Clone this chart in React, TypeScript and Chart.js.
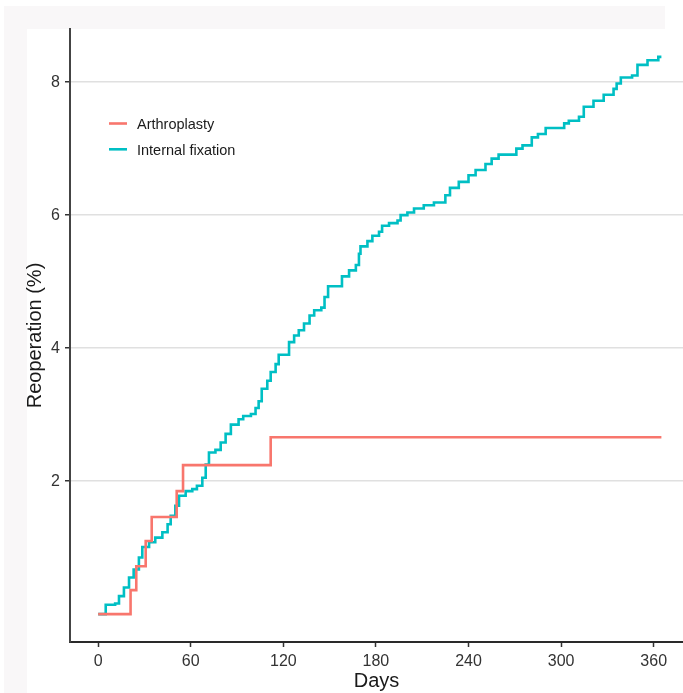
import React, { useEffect, useRef } from "react";
import { Chart, registerables } from "chart.js";

Chart.register(...registerables);

// ---- data ----
const ARTH_DAYS = [0, 21, 24.7, 30.8, 34.7, 50.9, 55, 111.8, 365];
const ARTH_VALUES = [0, 0.36, 0.72, 1.1, 1.46, 1.85, 2.24, 2.66, 2.66];

const IF_DAYS = [
  0, 4.9, 11, 13.5, 16.7, 20, 23, 26.4, 28.6, 33, 37, 41.6, 45, 47, 50, 52.4, 56.7, 61, 64, 67.5,
  69.7, 71.8, 76, 79.4, 82.6, 86, 91, 94, 99, 102, 104, 106, 109.6, 111.8, 115, 117, 123.7, 127,
  130, 133.4, 137, 140, 144.6, 146.7, 149, 158, 162.6, 167, 169, 170, 174.5, 177.7, 182, 184,
  188.5, 194, 196, 200.4, 204.7, 211, 217.6, 225, 228, 233.7, 240, 244.6, 251, 255, 259.5, 271,
  275, 281, 285, 290, 302, 305, 311.6, 314.7, 321, 327.6, 334, 336, 338.7, 346, 349.5, 356, 363,
  365,
];
const IF_VALUES = [
  0, 0.14, 0.16, 0.27, 0.4, 0.55, 0.67, 0.85, 1.01, 1.08, 1.15, 1.23, 1.35, 1.48, 1.63, 1.78, 1.85,
  1.88, 1.93, 2.05, 2.25, 2.43, 2.47, 2.58, 2.71, 2.85, 2.93, 2.98, 3.01, 3.1, 3.2, 3.39, 3.51,
  3.64, 3.76, 3.9, 4.09, 4.19, 4.27, 4.37, 4.49, 4.57, 4.61, 4.77, 4.93, 5.08, 5.17, 5.25, 5.42,
  5.53, 5.61, 5.69, 5.75, 5.84, 5.88, 5.92, 6.0, 6.04, 6.1, 6.15, 6.19, 6.3, 6.41, 6.5, 6.6, 6.68,
  6.77, 6.85, 6.91, 7.0, 7.05, 7.17, 7.22, 7.31, 7.38, 7.42, 7.48, 7.63, 7.72, 7.81, 7.9, 7.98,
  8.07, 8.1, 8.26, 8.33, 8.38, 8.38,
];

const SERIES_NAMES = ["Arthroplasty", "Internal fixation"];
const SERIES_COLORS = ["#F8766D", "#00BFC4"];
const X_TICKS = [0, 60, 120, 180, 240, 300, 360];
const Y_TICKS = [2, 4, 6, 8];
const X_TITLE = "Days";
const Y_TITLE = "Reoperation (%)";

const FONT = "'Liberation Sans', Arial, sans-serif";
const W = 683;
const H = 693;

const framePlugin = {
  id: "frame",
  beforeDraw(chart: any) {
    const ctx = chart.ctx;
    ctx.save();
    ctx.fillStyle = "#ffffff";
    ctx.fillRect(0, 0, W, H);
    ctx.fillStyle = "#f9f7f8";
    ctx.fillRect(4, 6, 661, 23);
    ctx.fillRect(4, 6, 23, H - 6);
    ctx.restore();
  },
};

const legendPlugin = {
  id: "customLegend",
  afterDraw(chart: any) {
    const ctx = chart.ctx;
    ctx.save();
    chart.data.datasets.forEach((ds: any, i: number) => {
      const y = 123.5 + i * 25.8;
      ctx.strokeStyle = ds.borderColor;
      ctx.lineWidth = 2.6;
      ctx.beginPath();
      ctx.moveTo(109, y);
      ctx.lineTo(127, y);
      ctx.stroke();
      ctx.fillStyle = "#1a1a1a";
      ctx.font = `14.5px ${FONT}`;
      ctx.textBaseline = "middle";
      ctx.textAlign = "left";
      ctx.fillText(ds.label, 137, y + 1.5);
    });
    ctx.restore();
  },
};

export default function App() {
  const ref = useRef<HTMLCanvasElement | null>(null);

  useEffect(() => {
    if (!ref.current) return;
    const mk = (days: number[], vals: number[]) => days.map((d, i) => ({ x: d, y: vals[i] }));
    const chart = new Chart(ref.current, {
      type: "line",
      data: {
        datasets: [
          {
            label: SERIES_NAMES[0],
            data: mk(ARTH_DAYS, ARTH_VALUES),
            borderColor: SERIES_COLORS[0],
            borderWidth: 2.6,
            stepped: "before",
            pointRadius: 0,
            fill: false,
          },
          {
            label: SERIES_NAMES[1],
            data: mk(IF_DAYS, IF_VALUES),
            borderColor: SERIES_COLORS[1],
            borderWidth: 2.6,
            stepped: "before",
            pointRadius: 0,
            fill: false,
          },
        ],
      },
      options: {
        animation: false,
        responsive: false,
        devicePixelRatio: 1,
        layout: { padding: { top: 29, left: 0, right: 0, bottom: 0 } },
        plugins: { legend: { display: false }, tooltip: { enabled: false } },
        scales: {
          x: {
            type: "linear",
            min: -18.25,
            max: 379,
            afterBuildTicks: (s: any) => {
              s.ticks = X_TICKS.map((v) => ({ value: v }));
            },
            afterFit: (s: any) => {
              s.height = 51;
            },
            grid: {
              display: true,
              drawOnChartArea: false,
              drawTicks: true,
              tickLength: 5,
              tickColor: "#333333",
              tickWidth: 1.5,
            },
            border: { display: true, color: "#2a2a2a", width: 2 },
            ticks: {
              padding: 5,
              color: "#333333",
              font: { family: FONT, size: 16 },
              maxRotation: 0,
              autoSkip: false,
            },
            title: {
              display: true,
              text: X_TITLE,
              color: "#1a1a1a",
              font: { family: FONT, size: 20, lineHeight: 1.15 },
              padding: { top: 0, bottom: 0 },
            },
          },
          y: {
            type: "linear",
            min: -0.42,
            max: 8.8,
            afterBuildTicks: (s: any) => {
              s.ticks = Y_TICKS.map((v) => ({ value: v }));
            },
            afterFit: (s: any) => {
              s.width = 70;
            },
            grid: {
              display: true,
              drawOnChartArea: true,
              color: "#e0e0e0",
              lineWidth: 1.5,
              drawTicks: true,
              tickLength: 5,
              tickColor: "#333333",
              tickWidth: 1.5,
            },
            border: { display: true, color: "#444444", width: 2 },
            ticks: {
              padding: 5,
              color: "#333333",
              font: { family: FONT, size: 16 },
              autoSkip: false,
            },
            title: {
              display: true,
              text: Y_TITLE,
              color: "#1a1a1a",
              font: { family: FONT, size: 20, lineHeight: 1.2 },
              padding: { top: 23, bottom: 0 },
            },
          },
        },
      },
      plugins: [framePlugin, legendPlugin],
    });
    return () => chart.destroy();
  }, []);

  return (
    <div style={{ position: "fixed", left: 0, top: 0, width: W, height: H, background: "#fff" }}>
      <canvas ref={ref} width={W} height={H} style={{ width: W, height: H, display: "block" }} />
    </div>
  );
}
